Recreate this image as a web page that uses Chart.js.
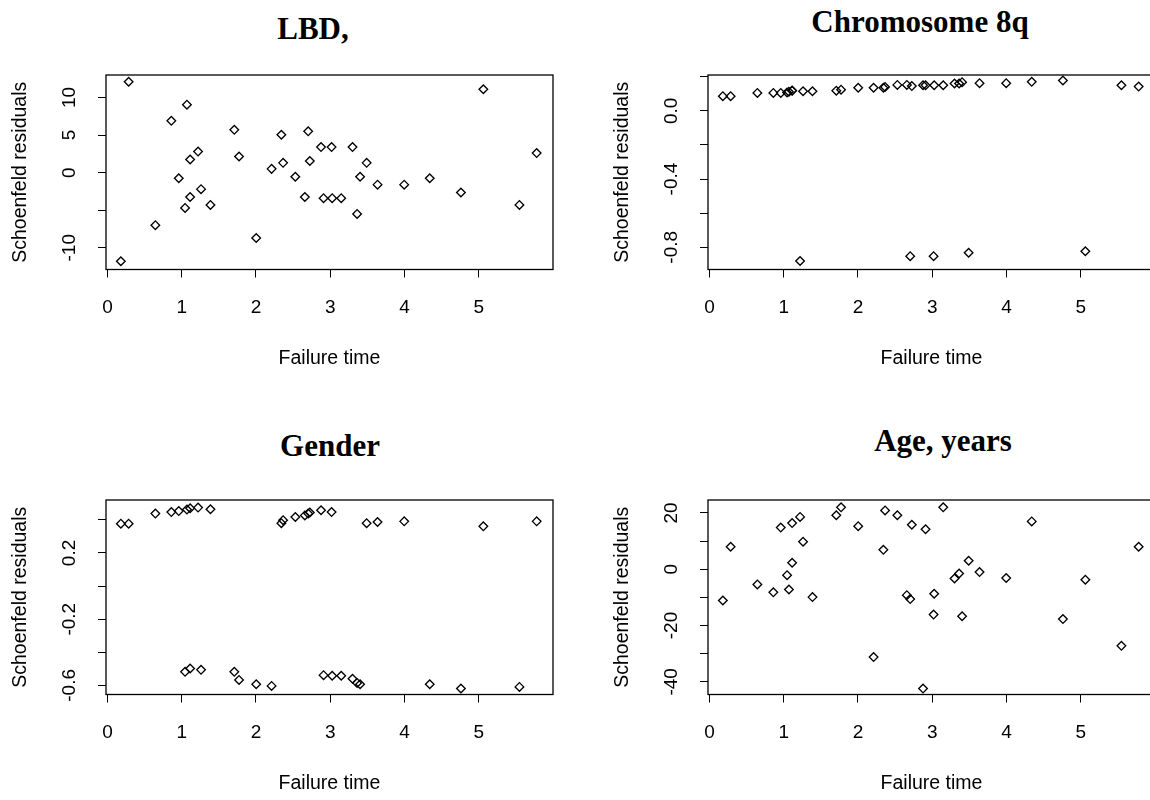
<!DOCTYPE html>
<html lang="en">
<head>
<meta charset="UTF-8">
<title>Schoenfeld residuals</title>
<script src="https://cdn.jsdelivr.net/npm/chart.js"></script>
<style>
    html, body { margin: 0; padding: 0; background: #fff; }
    body { position: relative; width: 1150px; height: 800px; overflow: hidden; }
    .panel { position: absolute; width: 575px; height: 400px; }
    .title { position: absolute; width: 400px; text-align: center; line-height: 1;
             font: bold 31px "Liberation Serif", "Times New Roman", serif; color: #000; }
</style>
</head>
<body>

<div class="title" style="left:113px; top:11px;">LBD,</div>
<div class="title" style="left:720px; top:4px;">Chromosome 8q</div>
<div class="title" style="left:130px; top:428px;">Gender</div>
<div class="title" style="left:743px; top:423px;">Age, years</div>

<div class="panel" style="left:0; top:0;"><canvas id="lbd"></canvas></div>
<div class="panel" style="left:602px; top:0;"><canvas id="chr8q"></canvas></div>
<div class="panel" style="left:0; top:425px;"><canvas id="gender"></canvas></div>
<div class="panel" style="left:602px; top:425px;"><canvas id="age"></canvas></div>

<script>
// event times shared by all four covariates
const failureTime = [0.18, 0.285, 0.645, 0.86, 0.96, 1.045, 1.07, 1.113, 1.113, 1.22,
    1.26, 1.387, 1.708, 1.772, 2.003, 2.21, 2.342, 2.365, 2.53, 2.658,
    2.703, 2.725, 2.876, 2.91, 3.018, 3.026, 3.148, 3.30, 3.362, 3.402,
    3.49, 3.637, 3.996, 4.34, 4.76, 5.062, 5.548, 5.78];

// scaled Schoenfeld residuals per covariate
const residLBD = [-11.8, 12.1, -7.0, 6.9, -0.75, -4.7, 9.05, 1.75, -3.25, 2.8,
    -2.2, -4.3, 5.7, 2.15, -8.7, 0.5, 5.05, 1.3, -0.55, -3.25,
    5.5, 1.55, 3.4, -3.4, 3.4, -3.4, -3.4, 3.4, -5.5, -0.55,
    1.3, -1.6, -1.6, -0.75, -2.65, 11.1, -4.3, 2.6];
const residChr8q = [0.086, 0.086, 0.105, 0.105, 0.105, 0.108, 0.112, 0.117, 0.119, -0.88,
    0.115, 0.115, 0.118, 0.124, 0.135, 0.135, 0.135, 0.14, 0.152, 0.152,
    -0.852, 0.145, 0.15, 0.15, -0.852, 0.15, 0.15, 0.16, 0.16, 0.168,
    -0.832, 0.162, 0.162, 0.17, 0.178, -0.823, 0.15, 0.142];
const residGender = [0.377, 0.377, 0.438, 0.447, 0.453, -0.518, 0.462, 0.47, -0.498, 0.474,
    -0.506, 0.464, -0.518, -0.567, -0.593, -0.603, 0.38, 0.398, 0.417, 0.427,
    0.438, 0.444, 0.458, -0.538, 0.447, -0.542, -0.542, -0.56, -0.585, -0.593,
    0.38, 0.387, 0.391, -0.593, -0.619, 0.361, -0.609, 0.391];
const residAge = [-11.1, 8.0, -5.4, -8.2, 14.8, -2.1, -7.2, 16.4, 2.3, 18.6,
    9.8, -9.9, 19.2, 22.0, 15.3, -31.2, 6.9, 20.9, 19.2, -9.2,
    -10.6, 15.8, -42.4, 14.2, -16.1, -8.7, 22.0, -3.3, -1.5, -16.7,
    3.0, -1.0, -3.1, 17.0, -17.7, -3.7, -27.2, 8.0];

// ticks (blank labels = tick mark only)
const xTicks = [0, 1, 2, 3, 4, 5];
const xTickLabels = ['0', '1', '2', '3', '4', '5'];
const lbdTicks = [-10, -5, 0, 5, 10];
const lbdTickLabels = ['-10', '', '0', '5', '10'];
const chr8qTicks = [-0.8, -0.6, -0.4, -0.2, 0.0, 0.2];
const chr8qTickLabels = ['-0.8', '', '-0.4', '', '0.0', ''];
const genderTicks = [-0.6, -0.4, -0.2, 0.0, 0.2, 0.4];
const genderTickLabels = ['-0.6', '', '-0.2', '', '0.2', ''];
const ageTicks = [-40, -30, -20, -10, 0, 10, 20];
const ageTickLabels = ['-40', '', '-20', '', '0', '', '20'];

const FONT_FAMILY = '"Liberation Sans", Arial, sans-serif';
const tickFont = { family: FONT_FAMILY, size: 19 };
const labelFont = { family: FONT_FAMILY, size: 19.5 };

// rotated y labels are centred ~36px left of the box
const measure = document.createElement('canvas').getContext('2d');
measure.font = '19px ' + FONT_FAMILY;
function labelPad(labels) {
    const widest = Math.max(...labels.map(l => measure.measureText(l).width));
    return 28.4 - widest / 2;
}

// R style plot box round the chart area
const frame = {
    id: 'frame',
    afterDatasetsDraw(chart) {
        const { ctx, chartArea: a } = chart;
        ctx.save();
        ctx.strokeStyle = '#000';
        ctx.lineWidth = 1.3;
        ctx.strokeRect(a.left, a.top, a.right - a.left, a.bottom - a.top);
        ctx.restore();
    }
};

function residualPlot(id, values, yMin, yMax, yTicks, yTickLabels) {
    return new Chart(document.getElementById(id), {
        type: 'scatter',
        data: {
            datasets: [{
                data: failureTime.map((t, i) => ({ x: t, y: values[i] })),
                pointStyle: 'rectRot',
                pointRadius: 4.3,
                pointBorderWidth: 1.35,
                borderColor: '#000',
                backgroundColor: 'rgba(0,0,0,0)',
                clip: false
            }]
        },
        options: {
            responsive: true,
            maintainAspectRatio: false,
            animation: false,
            layout: { padding: { top: 75, right: 22, bottom: 0, left: 0 } },
            plugins: { legend: { display: false }, tooltip: { enabled: false } },
            scales: {
                x: {
                    type: 'linear',
                    bounds: 'data',
                    min: -0.02,
                    max: 6.0,
                    afterBuildTicks: s => { s.ticks = xTicks.map(v => ({ value: v })); },
                    afterFit: s => { s.height = 130.5; },
                    border: { display: false },
                    grid: { drawOnChartArea: false, color: '#000', lineWidth: 1, tickLength: 8 },
                    ticks: {
                        font: tickFont, color: '#000', padding: 19, autoSkip: false, maxRotation: 0,
                        callback: (v, i) => xTickLabels[i]
                    },
                    title: { display: true, text: 'Failure time', font: labelFont, color: '#000', padding: { top: 0, bottom: 30 } }
                },
                y: {
                    type: 'linear',
                    bounds: 'data',
                    min: yMin,
                    max: yMax,
                    afterBuildTicks: s => { s.ticks = yTicks.map(v => ({ value: v })); },
                    afterFit: s => { s.width = 106; },
                    border: { display: false },
                    grid: { drawOnChartArea: false, color: '#000', lineWidth: 1, tickLength: 8 },
                    ticks: {
                        font: tickFont, color: '#000', autoSkip: false,
                        minRotation: 90, maxRotation: 90, crossAlign: 'center',
                        padding: labelPad(yTickLabels),
                        callback: (v, i) => yTickLabels[i]
                    },
                    title: { display: true, text: 'Schoenfeld residuals', font: labelFont, color: '#000', padding: { top: 8.6, bottom: 0 } }
                }
            }
        },
        plugins: [frame]
    });
}

residualPlot('lbd', residLBD, -12.9, 13.0, lbdTicks, lbdTickLabels);
residualPlot('chr8q', residChr8q, -0.93, 0.21, chr8qTicks, chr8qTickLabels);
residualPlot('gender', residGender, -0.655, 0.52, genderTicks, genderTickLabels);
residualPlot('age', residAge, -44.5, 24.6, ageTicks, ageTickLabels);
</script>
</body>
</html>
